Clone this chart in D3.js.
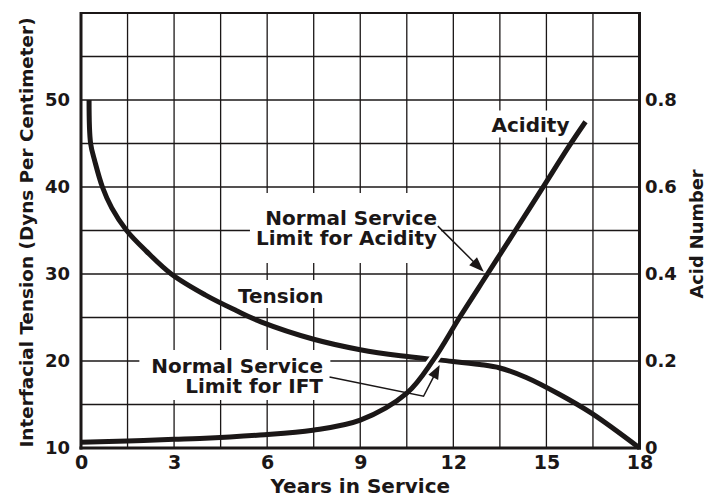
<!DOCTYPE html>
<html><head><meta charset="utf-8">
<script src="https://cdn.jsdelivr.net/npm/d3@7"></script>
<style>body{margin:0;background:#fff}svg{display:block}</style>
</head><body><svg id="c" width="709" height="497"></svg>
<script>
// ---- data ----
const tensionYears  = [0.26, 0.31, 0.45, 0.69, 0.99, 1.47, 2.11, 2.91, 4.0, 5.0, 5.8, 7.5, 9.0, 10.3, 11.6, 12.85, 13.5, 14.35, 15.4, 16.45, 18.0];
const tensionValues = [50,   45,   42.9, 40,   37.6, 35,   32.6, 30,   27.6, 25.8, 24.5, 22.5, 21.3, 20.6, 20.1, 19.6, 19.2, 18.1, 16.2, 14.0, 10];
const acidYears  = [0, 1.5, 3, 3.83, 5.77, 7.47, 9.0, 10.5, 11.35, 12.2, 13.1, 14.0, 14.85, 15.74, 16.26];
const acidValues = [0.013, 0.016, 0.020, 0.022, 0.030, 0.041, 0.064, 0.126, 0.202, 0.30, 0.40, 0.50, 0.595, 0.695, 0.75];
const xTicks = [0, 3, 6, 9, 12, 15, 18];
const leftTicks = [10, 20, 30, 40, 50];
const rightTicks = [0, 0.2, 0.4, 0.6, 0.8];
const xTitle = "Years in Service";
const leftTitle = "Interfacial Tension (Dyns Per Centimeter)";
const rightTitle = "Acid Number";

// ---- layout ----
const svg = d3.select("#c");
const FONT = "'DejaVu Sans', sans-serif";
const X0 = 81, X1 = 639.5, Y0 = 448, Y1 = 13;
const x = d3.scaleLinear().domain([0, 18]).range([X0, X1]);
const yL = d3.scaleLinear().domain([10, 60]).range([Y0, Y1]);
const yR = d3.scaleLinear().domain([0, 1.0]).range([Y0, Y1]);
const ink = "#1b1717";

svg.append("rect").attr("width", 709).attr("height", 497).attr("fill", "#fff");

// grid
const g = svg.append("g");
g.selectAll("line.v").data(d3.range(0, 18.01, 1.5)).join("line")
  .attr("x1", d => x(d)).attr("x2", d => x(d)).attr("y1", Y1).attr("y2", Y0)
  .attr("stroke", ink).attr("stroke-width", 1.3);
g.selectAll("line.h").data(d3.range(10, 60.01, 5)).join("line")
  .attr("y1", d => yL(d)).attr("y2", d => yL(d)).attr("x1", X0).attr("x2", X1)
  .attr("stroke", ink).attr("stroke-width", 1.3);

const bgLayer = svg.append("g");
const curveLayer = svg.append("g");
const frameLayer = svg.append("g");
const textLayer = svg.append("g");

// label helper: white box behind text
function label(lines, px, baselines, anchor, pad) {
  const t = textLayer.append("g");
  lines.forEach((s, i) => {
    t.append("text").attr("x", px).attr("y", baselines[i]).attr("text-anchor", anchor)
      .attr("font-family", FONT).attr("font-weight", "bold").attr("font-size", 20)
      .attr("fill", ink).text(s);
  });
  const b = t.node().getBBox();
  bgLayer.append("rect").attr("x", b.x - pad[0]).attr("y", b.y - pad[1])
    .attr("width", b.width + pad[0] + pad[2]).attr("height", b.height + pad[1] + pad[3])
    .attr("fill", "#fff");
}

label(["Normal Service", "Limit for IFT"], 323, [373, 393], "end", [12, 4, 7, 2]);
label(["Normal Service", "Limit for Acidity"], 437, [225, 245], "end", [6, 13, 4, 13]);
label(["Tension"], 238, [303], "start", [4, 4, 4, 0]);
label(["Acidity"], 491.5, [131.5], "start", [4, 2, 4, 1]);

// curves
const smooth = d3.curveCatmullRom.alpha(0.5);
const tensionLine = d3.line().x(d => x(d[0])).y(d => yL(d[1])).curve(smooth);
const acidLine = d3.line().x(d => x(d[0])).y(d => yR(d[1])).curve(smooth);
const tensionPts = tensionYears.map((v, i) => [v, tensionValues[i]]);
const acidPts = acidYears.map((v, i) => [v, acidValues[i]]);

curveLayer.append("path").attr("d", tensionLine(tensionPts)).attr("fill", "none")
  .attr("stroke", ink).attr("stroke-width", 5).attr("stroke-linecap", "butt");
// white halo of the acidity curve where it crosses the tension curve
const crossPts = acidPts.filter(d => d[0] >= 10.5 && d[0] <= 12.2);
curveLayer.append("path").attr("d", acidLine(crossPts)).attr("fill", "none")
  .attr("stroke", "#fff").attr("stroke-width", 10).attr("stroke-dasharray", "0,34,22,200");
curveLayer.append("path").attr("d", acidLine(acidPts)).attr("fill", "none")
  .attr("stroke", ink).attr("stroke-width", 5).attr("stroke-linecap", "butt");

// frame
frameLayer.append("line").attr("x1", X0).attr("x2", X1).attr("y1", Y1).attr("y2", Y1).attr("stroke", ink).attr("stroke-width", 2);
frameLayer.append("line").attr("x1", X0).attr("x2", X0).attr("y1", Y1 - 1).attr("y2", Y0 + 1.5).attr("stroke", ink).attr("stroke-width", 3);
frameLayer.append("line").attr("x1", X1).attr("x2", X1).attr("y1", Y1 - 1).attr("y2", Y0 + 1.5).attr("stroke", ink).attr("stroke-width", 3);
frameLayer.append("line").attr("x1", X0 - 1.5).attr("x2", X1 + 1.5).attr("y1", Y0).attr("y2", Y0).attr("stroke", ink).attr("stroke-width", 3);

// axes
function styleAxis(sel, size) {
  sel.select(".domain").remove();
  sel.selectAll("text").attr("font-family", FONT).attr("font-weight", "bold")
    .attr("font-size", size).attr("fill", ink);
}
frameLayer.append("g").attr("transform", `translate(0,${Y0})`)
  .call(d3.axisBottom(x).tickValues(xTicks).tickSize(0).tickPadding(7.5).tickFormat(d3.format("d")))
  .call(s => styleAxis(s, 19));
frameLayer.append("g").attr("transform", `translate(${X0},0)`)
  .call(d3.axisLeft(yL).tickValues(leftTicks).tickSize(0).tickPadding(11).tickFormat(d3.format("d")))
  .call(s => styleAxis(s, 18));
frameLayer.append("g").attr("transform", `translate(${X1},0)`)
  .call(d3.axisRight(yR).tickValues(rightTicks).tickSize(0).tickPadding(5.5).tickFormat(d => d === 0 ? "0" : d3.format(".1f")(d)))
  .call(s => styleAxis(s, 18));

// titles
textLayer.append("text").attr("x", x(9)).attr("y", 493).attr("text-anchor", "middle")
  .attr("font-family", FONT).attr("font-weight", "bold").attr("font-size", 20).attr("fill", ink).text(xTitle);
textLayer.append("text").attr("transform", `translate(33,${(Y1 + Y0) / 2 + 2}) rotate(-90)`).attr("text-anchor", "middle")
  .attr("font-family", FONT).attr("font-weight", "bold").attr("font-size", 18.4).attr("fill", ink).text(leftTitle);
textLayer.append("text").attr("transform", `translate(703,234) rotate(-90)`).attr("text-anchor", "middle")
  .attr("font-family", FONT).attr("font-weight", "bold").attr("font-size", 17.8).attr("fill", ink).text(rightTitle);

// leader lines with arrowheads
function arrowHead(from, tip, len, half) {
  const dx = tip[0] - from[0], dy = tip[1] - from[1], L = Math.hypot(dx, dy);
  const ux = dx / L, uy = dy / L;
  const bx = tip[0] - ux * len, by = tip[1] - uy * len;
  textLayer.append("path")
    .attr("d", `M${tip[0]},${tip[1]}L${bx - uy * half},${by + ux * half}L${bx + uy * half},${by - ux * half}Z`)
    .attr("fill", ink);
  return [bx + ux * 2, by + uy * 2];
}
// acidity limit leader
{
  const start = [x(11.5), yL(35.5)];
  const tip = [x(12.98), yR(0.405)];
  const base = arrowHead(start, tip, 15, 5.5);
  textLayer.append("line").attr("x1", start[0]).attr("y1", start[1]).attr("x2", base[0]).attr("y2", base[1])
    .attr("stroke", ink).attr("stroke-width", 1.5);
}
// IFT limit leader
{
  const start = [x(8.01), yL(18.16)];
  const corner = [x(11.04), yL(15.95)];
  const tip = [x(11.56), yL(19.55)];
  const base = arrowHead(corner, tip, 14, 5.5);
  textLayer.append("path").attr("d", `M${start[0]},${start[1]}L${corner[0]},${corner[1]}L${base[0]},${base[1]}`)
    .attr("fill", "none").attr("stroke", ink).attr("stroke-width", 1.5);
}
</script></body></html>
